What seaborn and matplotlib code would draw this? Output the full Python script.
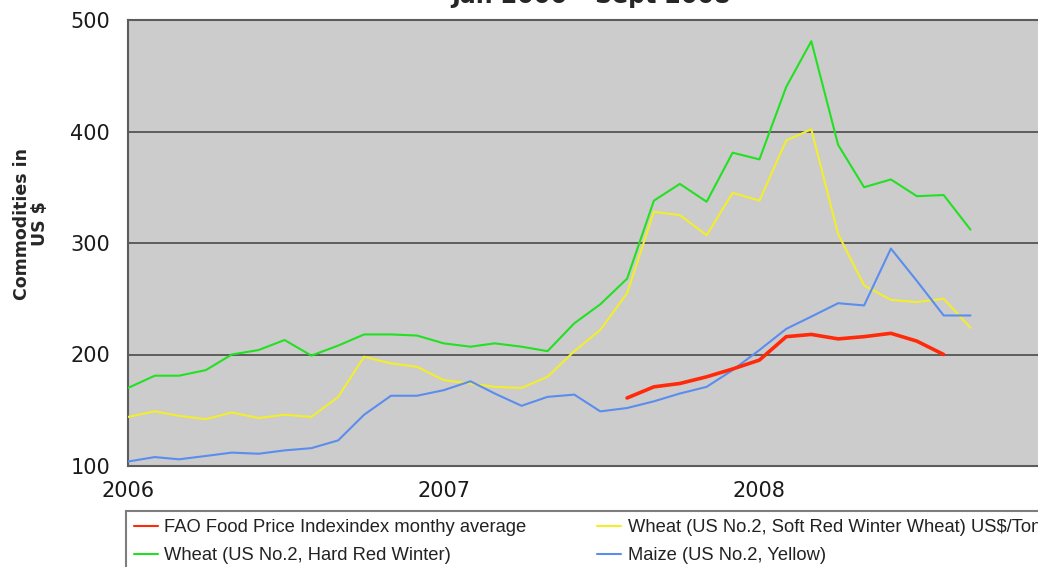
import numpy as np
import pandas as pd
import matplotlib
matplotlib.use("Agg")
import matplotlib.pyplot as plt
import matplotlib.dates as mdates
from matplotlib.lines import Line2D
import seaborn as sns

# Monthly prices, Jan 2006 - Sep 2008 (US $)
months = pd.date_range("2006-01-01", "2008-09-01", freq="MS")
wheat_hrw = [170, 181, 181, 186, 200, 204, 213, 199, 208, 218, 218, 217,
             210, 207, 210, 207, 203, 228, 245, 268, 338, 353, 337, 381,
             375, 440, 481, 388, 350, 357, 342, 343, 312]
wheat_srw = [144, 149, 145, 142, 148, 143, 146, 144, 162, 198, 192, 189,
             177, 174, 171, 170, 180, 203, 222, 255, 328, 325, 307, 345,
             338, 392, 402, 308, 262, 249, 247, 250, 224]
maize = [104, 108, 106, 109, 112, 111, 114, 116, 123, 146, 163, 163,
         168, 176, 165, 154, 162, 164, 149, 152, 158, 165, 171, 186,
         204, 223, 234, 246, 244, 295, 266, 235, 235]
# FAO index available Aug 2007 - Aug 2008
fao_months = pd.date_range("2007-08-01", "2008-08-01", freq="MS")
fao_index = [161, 171, 174, 180, 187, 195, 216, 218, 214, 216, 219, 212, 200]

labels = ["FAO Food Price Indexindex monthy average",
          "Wheat (US No.2, Hard Red Winter)",
          "Wheat (US No.2, Soft Red Winter Wheat) US$/Tonne",
          "Maize (US No.2, Yellow)"]
colors = ["#ff2a0a", "#22e022", "#f2ee2e", "#5b8def"]
widths = [2.6, 1.5, 1.5, 1.5]

sns.set_theme(style="white")
plt.rcParams["font.family"] = ["DejaVu Sans"]

fig = plt.figure(figsize=(10.38, 5.67), dpi=100)
W, H = 1038, 567
ax = fig.add_axes([128 / W, (H - 466) / H, 948 / W, 446 / H])
ax.set_facecolor("#cccccc")

series = [
    (fao_months, fao_index),
    (months, wheat_hrw),
    (months, wheat_srw),
    (months, maize),
]
# draw back-to-front so the FAO index sits on top
for i in [1, 2, 3, 0]:
    x, y = series[i]
    sns.lineplot(x=x, y=y, ax=ax, color=colors[i], linewidth=widths[i],
                 legend=False, zorder=3 + (i == 0))

ax.set_xlim(pd.Timestamp("2006-01-01"), pd.Timestamp("2009-01-01"))
ax.set_ylim(100, 500)
ax.set_yticks([100, 200, 300, 400, 500])
ax.yaxis.grid(True, color="#5c5c5c", linewidth=1.4, zorder=1)
ax.set_axisbelow(True)

ax.xaxis.set_major_locator(mdates.MonthLocator(bymonth=[1, 4, 7, 10]))
ax.xaxis.set_major_formatter(
    plt.FuncFormatter(lambda v, p: str(mdates.num2date(v).year)
                      if mdates.num2date(v).month == 1 else ""))

for side in ["left", "bottom", "top"]:
    ax.spines[side].set_color("#5c5c5c")
    ax.spines[side].set_linewidth(1.5)
ax.spines["right"].set_visible(False)

ax.tick_params(axis="both", which="major", direction="out", colors="#5c5c5c",
               labelcolor="#1a1a1a", labelsize=15, width=1.3)
ax.tick_params(axis="y", length=5, pad=8)
ax.tick_params(axis="x", length=7, pad=4)
ax.set_xlabel("")
ax.set_ylabel("")

fig.text(31 / W, 1 - 224 / H, "Commodities in\nUS $", rotation=90,
         ha="center", va="center", fontsize=12.5, fontweight="bold",
         multialignment="center", linespacing=1.0)

fig.text(591 / W, 1 - 3 / H, "Jan 2006 \u2013 Sept 2008", ha="center",
         va="baseline", fontsize=17, fontweight="bold")

handles = [Line2D([], [], color=c, linewidth=1.5) for c in colors]
leg = fig.legend(handles, labels, loc="upper left",
                 bbox_to_anchor=(126 / W, 1 - 511 / H), ncol=2,
                 frameon=True, fancybox=False, borderaxespad=0,
                 prop={"family": "Liberation Sans", "size": 13.2},
                 handlelength=1.3, handletextpad=0.35, columnspacing=3.85,
                 labelspacing=0.6, borderpad=0.45)
leg.get_frame().set_edgecolor("#5c5c5c")
leg.get_frame().set_linewidth(1.5)
for t in leg.get_texts():
    t.set_color("#222222")

fig.savefig("out.png", dpi=100)
